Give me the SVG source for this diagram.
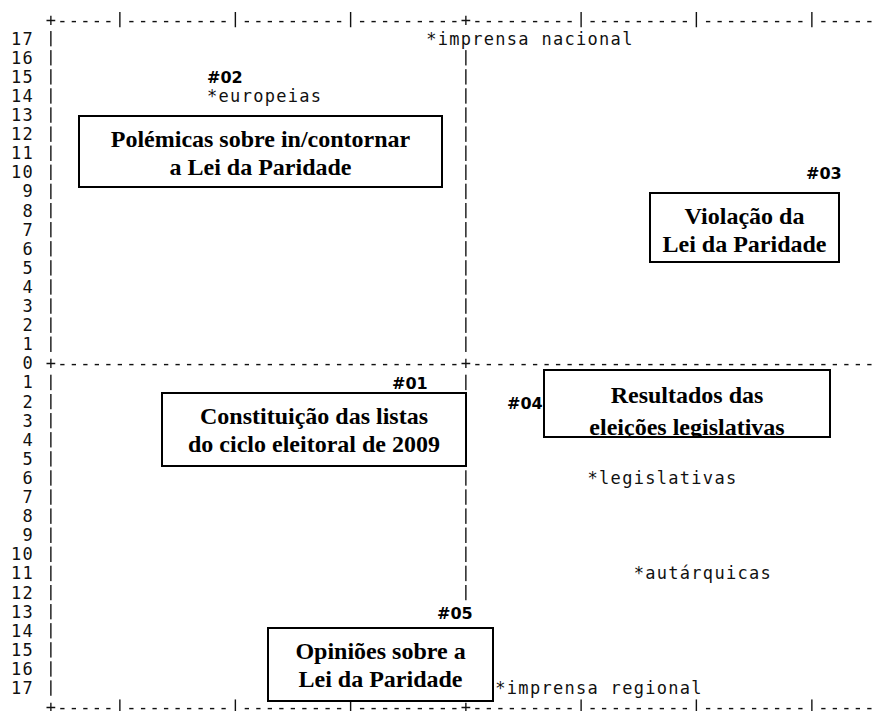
<svg xmlns="http://www.w3.org/2000/svg" width="874" height="711" viewBox="0 0 874 711">
  <style>
    .m { font-family: "DejaVu Sans Mono", "Liberation Mono", monospace; font-size: 17px; letter-spacing: 1.296px; white-space: pre; fill: #111; }
    .end { letter-spacing: -1px; }
    .box { fill: #fff; stroke: #000; stroke-width: 2; }
    .t { font-family: "Liberation Serif", "Times New Roman", serif; font-weight: bold; font-size: 24px; text-anchor: middle; fill: #000; }
    .id { font-family: "DejaVu Sans", Verdana, sans-serif; font-weight: bold; font-size: 16px; fill: #000; }
    .idbg { fill: #fff; }
  </style>
  <defs>
    <clipPath id="clipRes">
      <rect x="545" y="371" width="284" height="65"/>
    </clipPath>
    <!-- small gap between character rows, so stacked '|' read as separate strokes -->
    <pattern id="rowBands" patternUnits="userSpaceOnUse" x="0" y="27.25" width="874" height="19.1">
      <rect x="0" y="3.6" width="874" height="15.5" fill="#fff"/>
    </pattern>
    <mask id="rowGaps" maskUnits="userSpaceOnUse" x="0" y="0" width="874" height="711">
      <rect x="0" y="0" width="874" height="711" fill="url(#rowBands)"/>
    </mask>
  </defs>
  <rect width="874" height="711" fill="#fff"/>

  <!-- character plot: column pitch 11.53px, row pitch 19.1px -->
  <g id="axes">
    <g id="frame" mask="url(#rowGaps)">
      <text class="m" x="45.65" y="25.5">+-----|---------|---------|---------+---------|---------|---------|----<tspan class="end">-</tspan></text>
      <text class="m" x="45.65" y="369.3">+-----------------------------------+----------------------------------<tspan class="end">-</tspan></text>
      <text class="m" x="45.65" y="713.1">+-----|---------|---------|---------+---------|---------|---------|----<tspan class="end">-</tspan></text>

      <!-- left frame -->
      <text class="m"><tspan x="45.65" y="44.6">|</tspan><tspan x="45.65" y="63.7">|</tspan><tspan x="45.65" y="82.8">|</tspan><tspan x="45.65" y="101.9">|</tspan><tspan x="45.65" y="121.0">|</tspan><tspan x="45.65" y="140.1">|</tspan><tspan x="45.65" y="159.2">|</tspan><tspan x="45.65" y="178.3">|</tspan><tspan x="45.65" y="197.4">|</tspan><tspan x="45.65" y="216.5">|</tspan><tspan x="45.65" y="235.6">|</tspan><tspan x="45.65" y="254.7">|</tspan><tspan x="45.65" y="273.8">|</tspan><tspan x="45.65" y="292.9">|</tspan><tspan x="45.65" y="312.0">|</tspan><tspan x="45.65" y="331.1">|</tspan><tspan x="45.65" y="350.2">|</tspan><tspan x="45.65" y="388.4">|</tspan><tspan x="45.65" y="407.5">|</tspan><tspan x="45.65" y="426.6">|</tspan><tspan x="45.65" y="445.7">|</tspan><tspan x="45.65" y="464.8">|</tspan><tspan x="45.65" y="483.9">|</tspan><tspan x="45.65" y="503.0">|</tspan><tspan x="45.65" y="522.1">|</tspan><tspan x="45.65" y="541.2">|</tspan><tspan x="45.65" y="560.3">|</tspan><tspan x="45.65" y="579.4">|</tspan><tspan x="45.65" y="598.5">|</tspan><tspan x="45.65" y="617.6">|</tspan><tspan x="45.65" y="636.7">|</tspan><tspan x="45.65" y="655.8">|</tspan><tspan x="45.65" y="674.9">|</tspan><tspan x="45.65" y="694.0">|</tspan></text>

      <!-- middle axis (row 1 holds the *imprensa nacional label) -->
      <text class="m"><tspan x="460.73" y="63.7">|</tspan><tspan x="460.73" y="82.8">|</tspan><tspan x="460.73" y="101.9">|</tspan><tspan x="460.73" y="121.0">|</tspan><tspan x="460.73" y="140.1">|</tspan><tspan x="460.73" y="159.2">|</tspan><tspan x="460.73" y="178.3">|</tspan><tspan x="460.73" y="197.4">|</tspan><tspan x="460.73" y="216.5">|</tspan><tspan x="460.73" y="235.6">|</tspan><tspan x="460.73" y="254.7">|</tspan><tspan x="460.73" y="273.8">|</tspan><tspan x="460.73" y="292.9">|</tspan><tspan x="460.73" y="312.0">|</tspan><tspan x="460.73" y="331.1">|</tspan><tspan x="460.73" y="350.2">|</tspan><tspan x="460.73" y="388.4">|</tspan><tspan x="460.73" y="483.9">|</tspan><tspan x="460.73" y="503.0">|</tspan><tspan x="460.73" y="522.1">|</tspan><tspan x="460.73" y="541.2">|</tspan><tspan x="460.73" y="560.3">|</tspan><tspan x="460.73" y="579.4">|</tspan><tspan x="460.73" y="598.5">|</tspan></text>
    </g>

    <!-- row numbers -->
    <g id="row-labels">
      <text class="m" x="11.06" y="44.6">17</text>
      <text class="m" x="11.06" y="63.7">16</text>
      <text class="m" x="11.06" y="82.8">15</text>
      <text class="m" x="11.06" y="101.9">14</text>
      <text class="m" x="11.06" y="121.0">13</text>
      <text class="m" x="11.06" y="140.1">12</text>
      <text class="m" x="11.06" y="159.2">11</text>
      <text class="m" x="11.06" y="178.3">10</text>
      <text class="m" x="22.59" y="197.4">9</text>
      <text class="m" x="22.59" y="216.5">8</text>
      <text class="m" x="22.59" y="235.6">7</text>
      <text class="m" x="22.59" y="254.7">6</text>
      <text class="m" x="22.59" y="273.8">5</text>
      <text class="m" x="22.59" y="292.9">4</text>
      <text class="m" x="22.59" y="312.0">3</text>
      <text class="m" x="22.59" y="331.1">2</text>
      <text class="m" x="22.59" y="350.2">1</text>
      <text class="m" x="22.59" y="369.3">0</text>
      <text class="m" x="22.59" y="388.4">1</text>
      <text class="m" x="22.59" y="407.5">2</text>
      <text class="m" x="22.59" y="426.6">3</text>
      <text class="m" x="22.59" y="445.7">4</text>
      <text class="m" x="22.59" y="464.8">5</text>
      <text class="m" x="22.59" y="483.9">6</text>
      <text class="m" x="22.59" y="503.0">7</text>
      <text class="m" x="22.59" y="522.1">8</text>
      <text class="m" x="22.59" y="541.2">9</text>
      <text class="m" x="11.06" y="560.3">10</text>
      <text class="m" x="11.06" y="579.4">11</text>
      <text class="m" x="11.06" y="598.5">12</text>
      <text class="m" x="11.06" y="617.6">13</text>
      <text class="m" x="11.06" y="636.7">14</text>
      <text class="m" x="11.06" y="655.8">15</text>
      <text class="m" x="11.06" y="674.9">16</text>
      <text class="m" x="11.06" y="694.0">17</text>
    </g>

    <!-- plotted points -->
    <g id="points">
      <text class="m" x="426.14" y="44.6">*imprensa nacional</text>
      <text class="m" x="207.07" y="101.9">*europeias</text>
      <text class="m" x="587.56" y="483.9">*legislativas</text>
      <text class="m" x="633.68" y="579.4">*autárquicas</text>
      <text class="m" x="495.32" y="694.0">*imprensa regional</text>
    </g>
  </g>

  <!-- themes -->
  <g id="node-02">
    <text class="id" x="207" y="83">#02</text>
    <rect class="box" x="79" y="116" width="363" height="71"/>
    <text class="t" x="260.5" y="147">Polémicas sobre in/contornar</text>
    <text class="t" x="260.5" y="175">a Lei da Paridade</text>
  </g>

  <g id="node-03">
    <text class="id" x="806" y="179">#03</text>
    <rect class="box" x="650" y="193" width="189" height="69"/>
    <text class="t" x="744.5" y="224">Violação da</text>
    <text class="t" x="744.5" y="252">Lei da Paridade</text>
  </g>

  <g id="node-01">
    <text class="id" x="392" y="389">#01</text>
    <rect class="box" x="162" y="393" width="304" height="73"/>
    <text class="t" x="314" y="424">Constituição das listas</text>
    <text class="t" x="314" y="452">do ciclo eleitoral de 2009</text>
  </g>

  <g id="node-04">
    <text class="id" x="507" y="409">#04</text>
    <rect class="box" x="544" y="370" width="286" height="67"/>
    <g clip-path="url(#clipRes)">
      <text class="t" x="687" y="403">Resultados das</text>
      <text class="t" x="687" y="435">eleições legislativas</text>
    </g>
    <rect x="544" y="370" width="286" height="67" fill="none" stroke="#000" stroke-width="2"/>
  </g>

  <g id="node-05">
    <rect class="idbg" x="435" y="603" width="41" height="19"/>
    <text class="id" x="437" y="619">#05</text>
    <rect class="box" x="268" y="628" width="225" height="73"/>
    <text class="t" x="380.5" y="659">Opiniões sobre a</text>
    <text class="t" x="380.5" y="687">Lei da Paridade</text>
  </g>
</svg>
